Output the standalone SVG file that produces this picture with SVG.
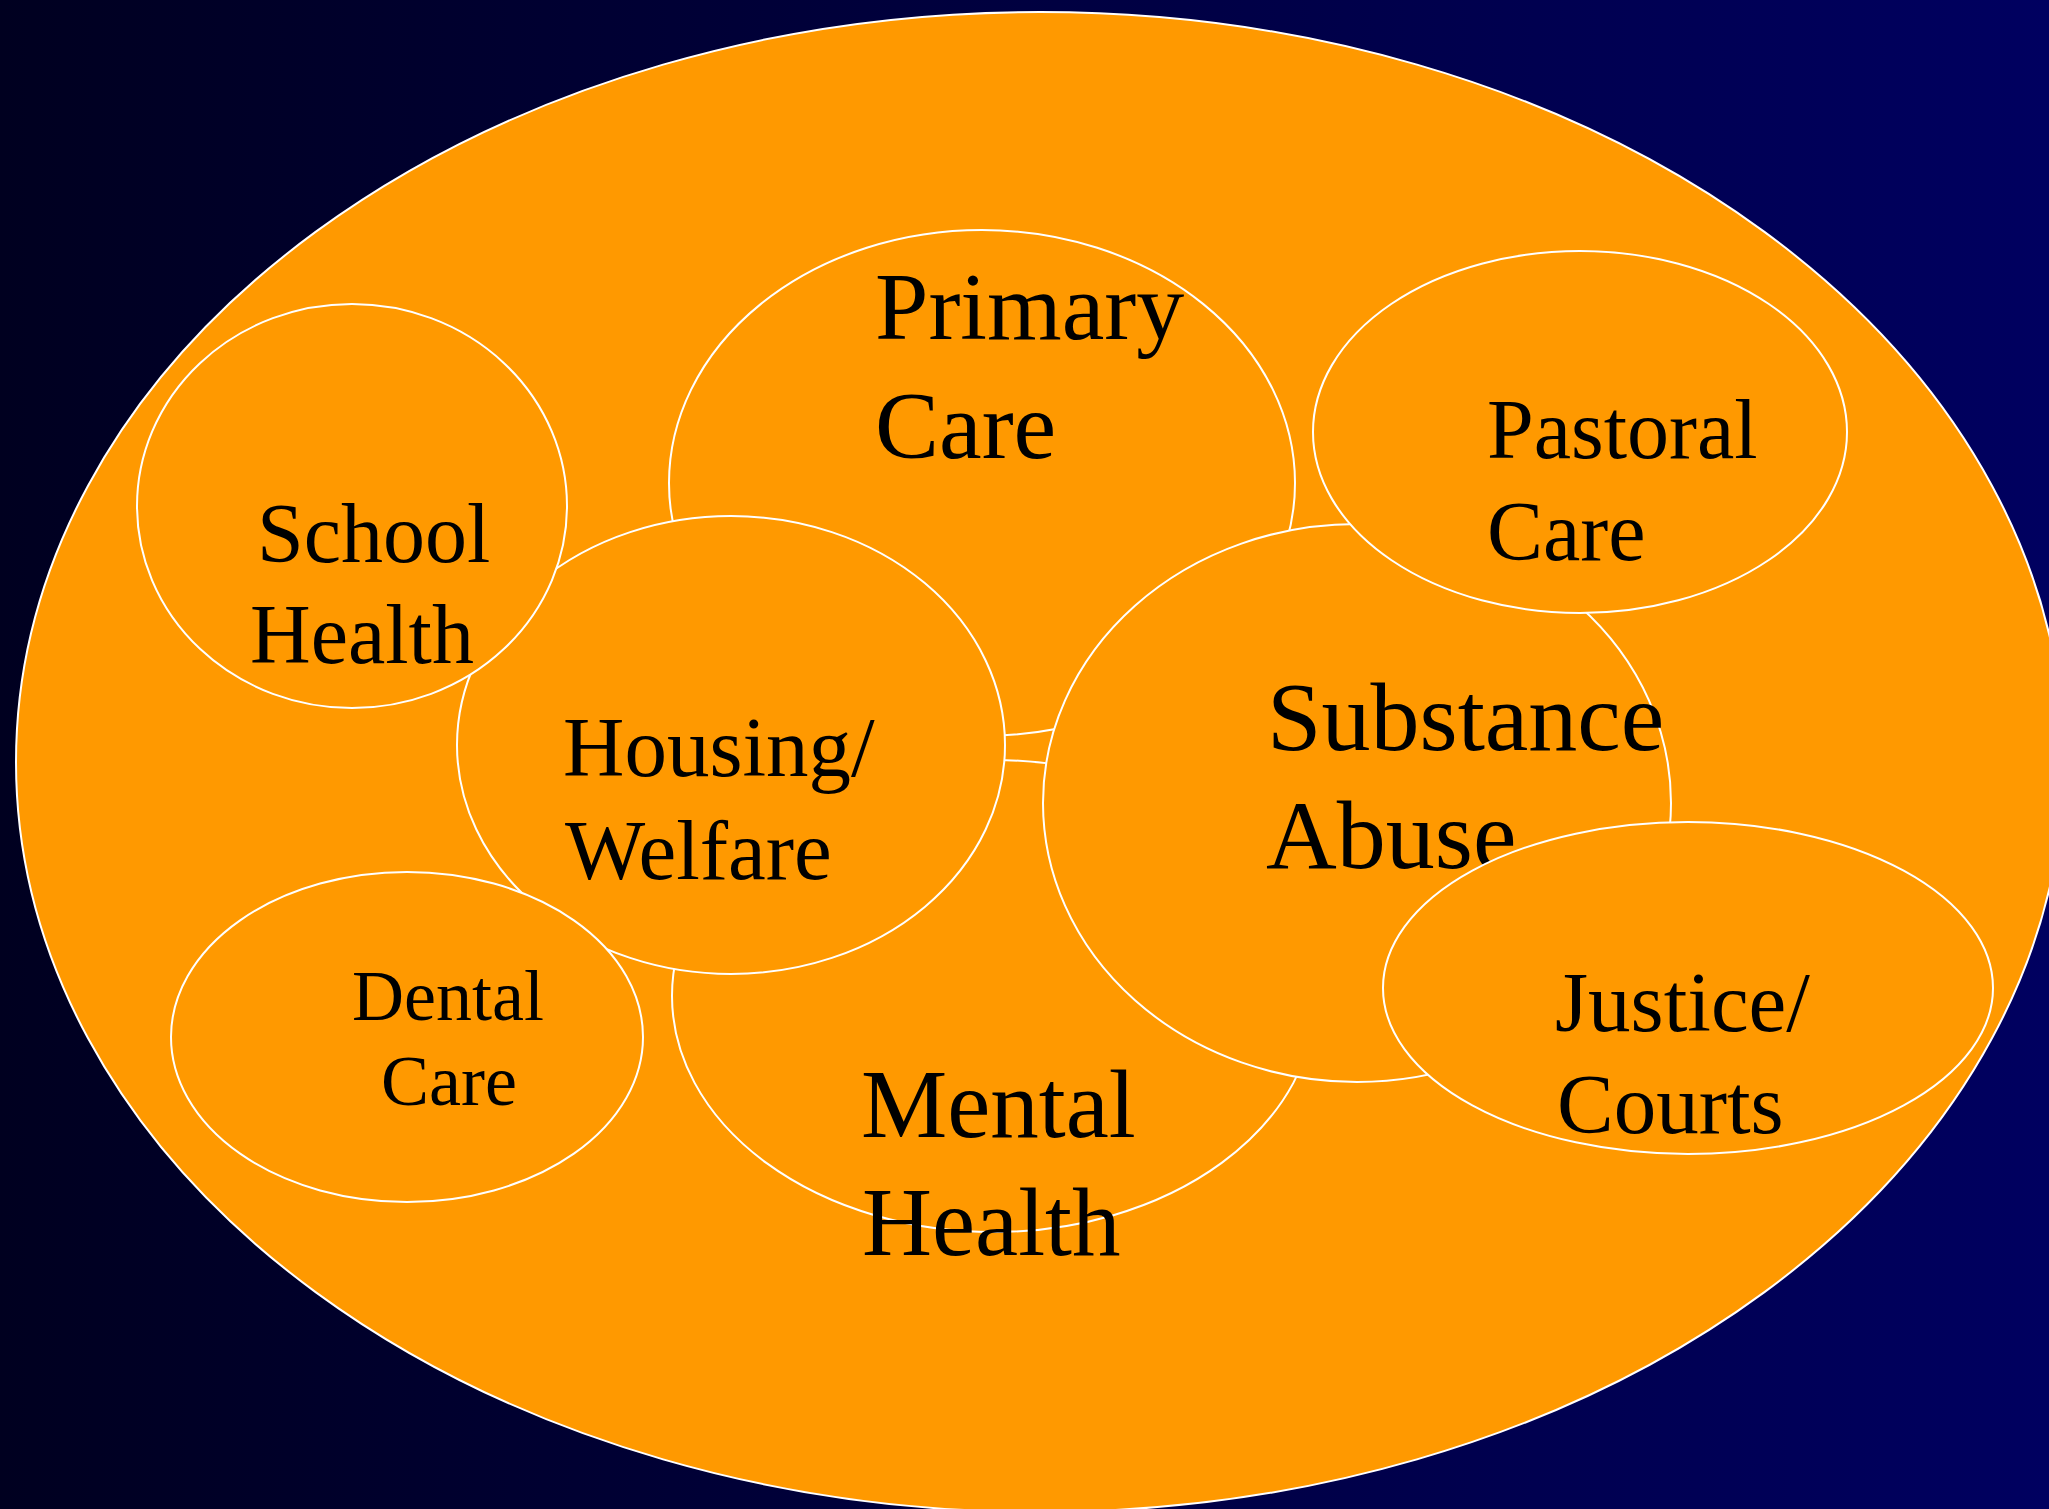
<svg xmlns="http://www.w3.org/2000/svg" width="2049" height="1509" viewBox="0 0 2049 1509">
<defs>
<linearGradient id="bg" x1="0" y1="0" x2="1" y2="0">
<stop offset="0" stop-color="#000020"/>
<stop offset="1" stop-color="#000060"/>
</linearGradient>
<style>
.c{fill:#FF9900;stroke:#FFFFFF;stroke-width:2}
.t{font-family:"Liberation Serif","Times New Roman",serif;fill:#000000}
</style>
</defs>
<rect x="0" y="0" width="2049" height="1509" fill="url(#bg)"/>
<g id="outer"><ellipse class="c" cx="1040" cy="762" rx="1024" ry="750"/></g>
<g id="primary-care">
<ellipse class="c" cx="982" cy="483" rx="313" ry="253"/>
<text class="t" font-size="96"><tspan x="875" y="339">Primary</tspan><tspan x="875" y="458">Care</tspan></text>
</g>
<g id="mental-health">
<ellipse class="c" cx="994" cy="996" rx="322" ry="236"/>
</g>
<g id="housing-welfare">
<ellipse class="c" cx="731" cy="745" rx="274" ry="229"/>
<text class="t" font-size="85"><tspan x="563" y="776">Housing/</tspan><tspan x="565" y="879">Welfare</tspan></text>
</g>
<g id="school-health">
<ellipse class="c" cx="352" cy="506" rx="215" ry="202"/>
<text class="t" font-size="84"><tspan x="257" y="562">School</tspan><tspan x="250" y="663">Health</tspan></text>
</g>
<g id="dental-care">
<ellipse class="c" cx="407" cy="1037" rx="236" ry="165"/>
<text class="t" font-size="72"><tspan x="352" y="1020">Dental</tspan><tspan x="381" y="1105">Care</tspan></text>
</g>
<g id="mental-health-label">
<text class="t" font-size="97"><tspan x="861" y="1137">Mental</tspan><tspan x="862" y="1255">Health</tspan></text>
</g>
<g id="substance-abuse">
<ellipse class="c" cx="1357" cy="803" rx="314" ry="279"/>
<text class="t" font-size="98"><tspan x="1267" y="750">Substance</tspan><tspan x="1266" y="868">Abuse</tspan></text>
</g>
<g id="pastoral-care">
<ellipse class="c" cx="1580" cy="432" rx="267" ry="181"/>
<text class="t" font-size="84"><tspan x="1487" y="458">Pastoral</tspan><tspan x="1487" y="560">Care</tspan></text>
</g>
<g id="justice-courts">
<ellipse class="c" cx="1688" cy="988" rx="305" ry="166"/>
<text class="t" font-size="85"><tspan x="1555" y="1031">Justice/</tspan><tspan x="1557" y="1133">Courts</tspan></text>
</g>
</svg>
